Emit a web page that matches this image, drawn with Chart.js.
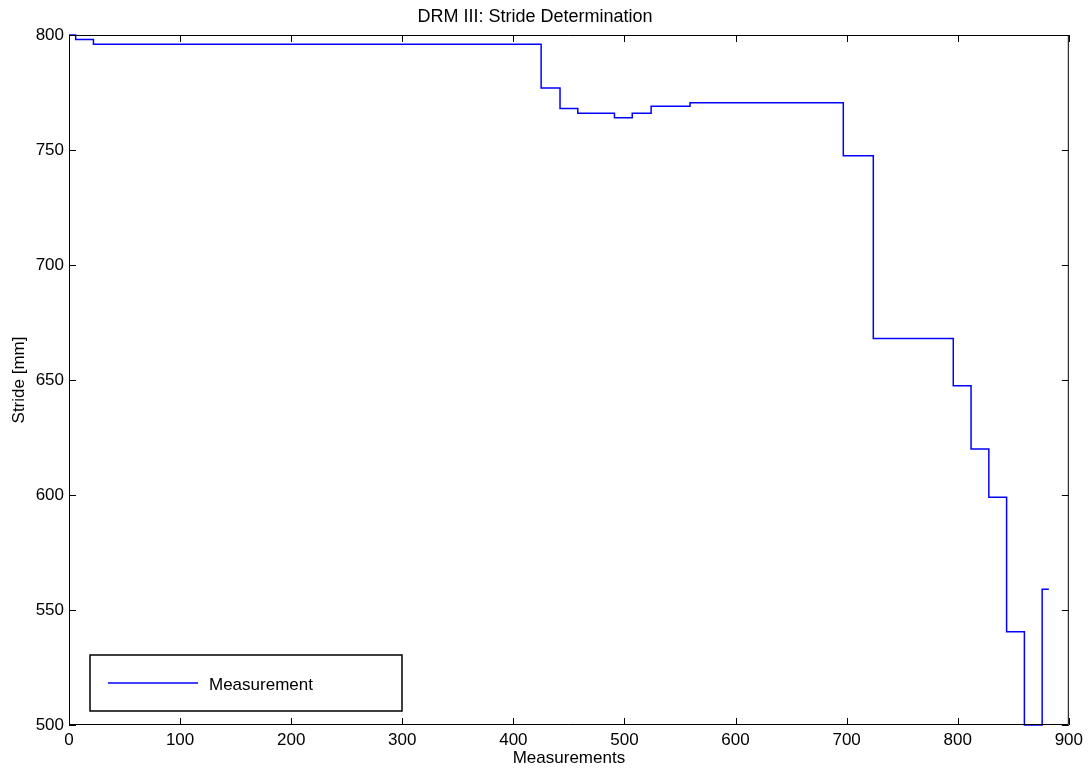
<html>
  <head>
    <script src="https://cdn.jsdelivr.net/npm/chart.js@4/dist/chart.umd.min.js"></script>
  </head>
  <body>
    <div id="wrap"><canvas id="graph"></canvas></div>
    <style>
      body{
        margin: 0;
        background-color: white;
      }
      #wrap{
        width: 1088px;
        height: 769px;
      }
    </style>
    <script>
      // positions (measurement index) where the stride value changes
      var stepX = [0, 6, 22, 425, 442, 458, 491, 507, 524, 559, 697, 724, 796, 812, 828, 844, 860, 876, 882];
      // stride value [mm] starting at each of those positions
      var stepY = [800, 798, 796, 777, 768, 766, 764, 766, 769, 770.5, 747.5, 668, 647.5, 620, 599, 540.5, 500, 559, 559];
      var xTicks = [0, 100, 200, 300, 400, 500, 600, 700, 800, 900];
      var yTicks = [500, 550, 600, 650, 700, 750, 800];

      var font = {family: 'Liberation Sans, Arial, sans-serif', size: 17};

      var points = stepX.map(function (x, i) { return {x: x, y: stepY[i]}; });

      // MATLAB style box, inward ticks on all four sides and boxed legend
      var matlabBox = {
        id: 'matlabBox',
        afterDraw: function (chart) {
          var ctx = chart.ctx;
          var a = chart.chartArea;
          var sx = chart.scales.x, sy = chart.scales.y;
          var len = 7;
          ctx.save();
          ctx.strokeStyle = '#000';
          ctx.lineWidth = 1;
          ctx.beginPath();
          ctx.rect(a.left + 0.5, a.top + 0.5, a.right - a.left - 1, a.bottom - a.top - 1);
          sx.ticks.forEach(function (t) {
            var px = Math.round(sx.getPixelForValue(t.value)) + 0.5;
            ctx.moveTo(px, a.bottom); ctx.lineTo(px, a.bottom - len);
            ctx.moveTo(px, a.top); ctx.lineTo(px, a.top + len);
          });
          sy.ticks.forEach(function (t) {
            var py = Math.round(sy.getPixelForValue(t.value)) + 0.5;
            ctx.moveTo(a.left, py); ctx.lineTo(a.left + len, py);
            ctx.moveTo(a.right, py); ctx.lineTo(a.right - len, py);
          });
          ctx.stroke();

          // legend box, lower left
          var lx = a.left + 21, ly = a.bottom - 70, lw = 312, lh = 56;
          ctx.fillStyle = '#fff';
          ctx.fillRect(lx, ly, lw, lh);
          ctx.lineWidth = 1.5;
          ctx.strokeRect(lx, ly, lw, lh);
          var ds = chart.data.datasets[0];
          ctx.strokeStyle = ds.borderColor;
          ctx.lineWidth = 1.5;
          ctx.beginPath();
          ctx.moveTo(lx + 18, ly + 28); ctx.lineTo(lx + 108, ly + 28);
          ctx.stroke();
          ctx.fillStyle = '#000';
          ctx.font = '17px Liberation Sans, Arial, sans-serif';
          ctx.textBaseline = 'middle';
          ctx.fillText(ds.label, lx + 119, ly + 30);
          ctx.restore();
        }
      };

      var chartConfig = {
        type: 'line',
        data: {
          datasets: [{
            label: 'Measurement',
            data: points,
            borderColor: '#0000ff',
            borderWidth: 1.5,
            pointRadius: 0,
            stepped: true,
            fill: false,
            clip: 3
          }]
        },
        options: {
          responsive: true,
          maintainAspectRatio: false,
          animation: false,
          layout: {padding: {top: 0, right: 18, bottom: 0, left: 0}},
          plugins: {
            legend: {display: false},
            tooltip: {enabled: false},
            title: {
              display: true,
              text: 'DRM III: Stride Determination',
              color: '#000',
              font: {family: font.family, size: 18, weight: 'normal'},
              padding: {top: 6, bottom: 7.4}
            }
          },
          scales: {
            x: {
              type: 'linear',
              min: 0,
              max: 900,
              afterBuildTicks: function (s) { s.ticks = xTicks.map(function (v) { return {value: v}; }); },
              afterFit: function (s) { s.height = 44; },
              grid: {display: false, drawTicks: false},
              border: {display: false},
              ticks: {color: '#000', font: font, padding: 5, maxRotation: 0},
              title: {display: true, text: 'Measurements', color: '#000', font: font, padding: {top: 0, bottom: 0}}
            },
            y: {
              min: 500,
              max: 800,
              afterBuildTicks: function (s) { s.ticks = yTicks.map(function (v) { return {value: v}; }); },
              afterFit: function (s) { s.width = 69; },
              grid: {display: false, drawTicks: false},
              border: {display: false},
              ticks: {color: '#000', font: font, padding: 5},
              title: {display: true, text: 'Stride [mm]', color: '#000', font: font, padding: {top: 9, bottom: 0}}
            }
          }
        },
        plugins: [matlabBox]
      };

      var graph = new Chart(document.getElementById("graph"), chartConfig);
    </script>
  </body>
</html>
